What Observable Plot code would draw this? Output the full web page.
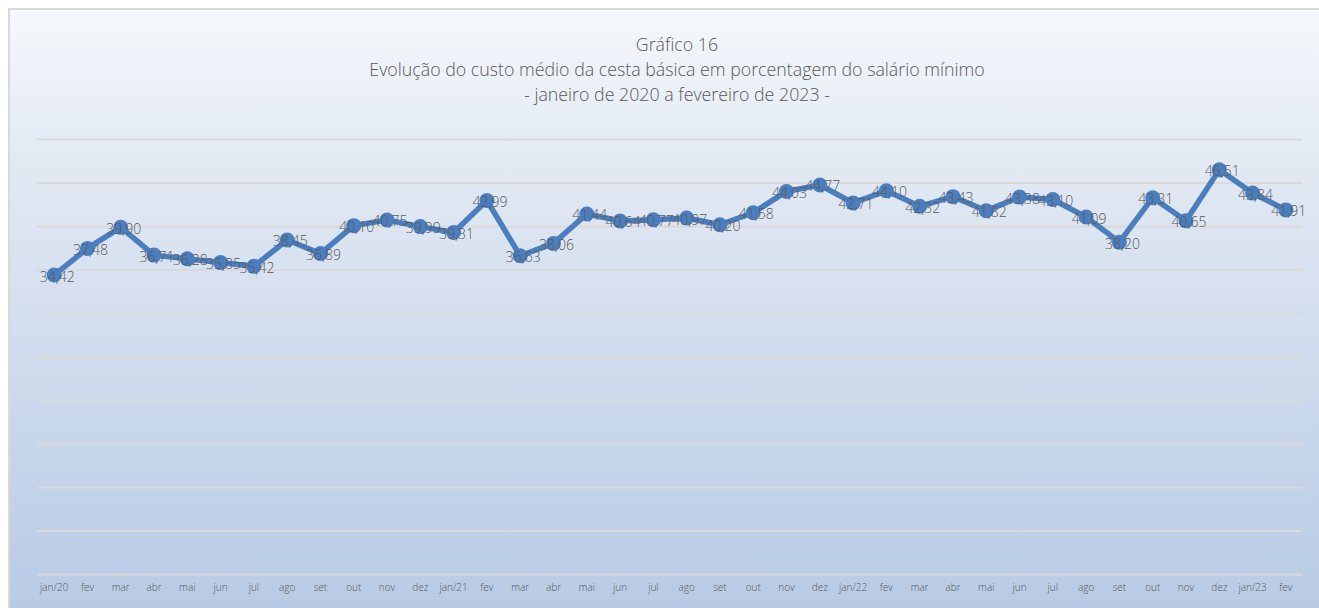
<!DOCTYPE html>
<html>
<head>
<meta charset="utf-8">
<script src="https://cdn.jsdelivr.net/npm/d3@7"></script>
<script src="https://cdn.jsdelivr.net/npm/@observablehq/plot@0.6"></script>
<style>
  html, body { margin: 0; padding: 0; width: 1319px; height: 608px; overflow: hidden; background: #fff; }
  #frame { position: absolute; left: 8px; top: 8px; width: 1330px; height: 620px; box-sizing: border-box;
    border: 2px solid #d9d9d9; background: linear-gradient(to bottom, #f5f8fc 0%, #e2e9f3 25%, #b6c9e4 100%); }
  #title { position: absolute; left: 12px; top: 32px; width: 1330px; text-align: center; color: #595959;
    font-family: "Open Sans", sans-serif; font-weight: 300; font-size: 17.8px; line-height: 25px; }
  #chart { position: absolute; left: 0; top: 0; }
</style>
</head>
<body>
<div id="frame"></div>
<div id="title">Gráfico 16<br>Evolução do custo médio da cesta básica em porcentagem do salário mínimo<br>- janeiro de 2020 a fevereiro de 2023 -</div>
<div id="chart"></div>
<script>
const months = ["jan/20","fev","mar","abr","mai","jun","jul","ago","set","out","nov","dez",
  "jan/21","fev","mar","abr","mai","jun","jul","ago","set","out","nov","dez",
  "jan/22","fev","mar","abr","mai","jun","jul","ago","set","out","nov","dez",
  "jan/23","fev"];
const values = [34.42,37.48,39.90,36.71,36.28,35.85,35.42,38.45,36.89,40.10,40.75,39.99,
  39.31,42.99,36.63,38.06,41.44,40.64,40.77,40.97,40.20,41.58,44.03,44.77,
  42.71,44.10,42.32,43.43,41.82,43.38,43.10,41.09,38.20,43.31,40.65,46.51,
  43.84,41.91];
const gridValues = [0,5,10,15,20,25,30,35,40,45,50];

const data = months.map((m, i) => ({i, m, v: values[i]}));
const fmt = v => v.toFixed(2).replace(".", ",");

const chart = Plot.plot({
  width: 1319,
  height: 608,
  marginLeft: 37,
  marginRight: 17,
  marginTop: 139,
  marginBottom: 34,
  style: {background: "transparent", fontFamily: "'Open Sans', sans-serif"},
  x: {type: "band", domain: data.map(d => d.i), padding: 0, round: false, axis: null},
  y: {domain: [0, 50], axis: null},
  marks: [
    Plot.ruleY(gridValues, {stroke: "#d9d9d9", strokeWidth: 2}),
    Plot.text(data, {x: "i", frameAnchor: "bottom", text: "m", dy: 16, fontSize: 10, fill: "#595959", fontWeight: 300}),
    Plot.line(data, {x: "i", y: "v", stroke: "#4a7ebf", strokeWidth: 5.5, strokeLinejoin: "round", strokeLinecap: "round"}),
    Plot.dot(data, {x: "i", y: "v", r: 7.5, fill: "#4a7ebf", stroke: "none"}),
    Plot.text(data, {x: "i", y: "v", text: d => fmt(d.v), dx: 3, dy: 2, fontSize: 14, fill: "#595959", fontWeight: 300})
  ]
});
document.getElementById("chart").appendChild(chart);
</script>
</body>
</html>
